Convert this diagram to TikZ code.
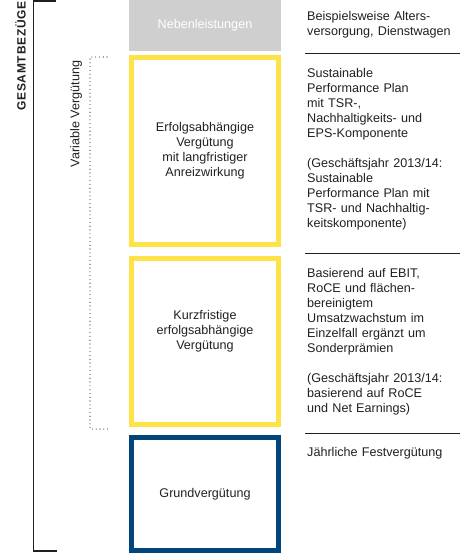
\documentclass[tikz,border=0pt]{standalone}
\usepackage{fontspec}
\setmainfont{Liberation Sans}
\definecolor{vkgelb}{RGB}{253,227,72}
\definecolor{vkblau}{RGB}{0,69,124}
\definecolor{vkgrau}{RGB}{207,207,207}
\definecolor{vktext}{RGB}{35,31,32}
\newcommand{\vkschrift}{\fontsize{12.6}{15}\selectfont}
\tikzset{
    grundbox/.style={rectangle, draw, line width=5pt, minimum width=147pt, inner sep=0pt,
                     outer sep=0pt, align=center, font=\vkschrift, text=vktext},
    varbox/.style={grundbox, draw=vkgelb},
    fixbox/.style={grundbox, draw=vkblau},
    nebenbox/.style={rectangle, fill=vkgrau, minimum width=152pt, minimum height=51pt,
                     inner sep=0pt, outer sep=0pt, text=white, font=\vkschrift},
    beschreibung/.style={anchor=base west, text width=165pt, inner sep=0pt, align=left,
                         font=\vkschrift, text=vktext},
    trenner/.style={line width=0.9pt, vktext},
    klammer/.style={line width=1.2pt, vktext},
    punktlinie/.style={line width=1.1pt, dash pattern=on 0pt off 3.8pt, line cap=round, vktext},
}

\begin{document}
\begin{tikzpicture}[x=1pt, y=-1pt]
    \useasboundingbox (0,0) rectangle (460,554);

    % Klammer Gesamtbezuege
    \node[rotate=90, font=\bfseries\fontsize{12}{14}\selectfont\addfontfeature{LetterSpace=6}, text=vktext] (gesamt) at (20.5,56) {GESAMTBEZÜGE};
    \coordinate (gtop) at (56,1);
    \coordinate (gbottom) at (57,551);
    \draw[klammer] (gtop) -- (33.5,1) -- (33.5,551) -- (gbottom);

    % Klammer variable Verguetung
    \node[rotate=90, font=\vkschrift, text=vktext] (variabel) at (76,114) {Variable Vergütung};
    \coordinate (vtop) at (107,57);
    \coordinate (vbottom) at (108,429);
    \draw[punktlinie] (vtop) -- (90,57) -- (90,429) -- (vbottom);

    % Bausteine
    \node[nebenbox] (neben) at (205,25.5) {Nebenleistungen};
    \node[varbox, minimum height=187.3pt] (lang) at (205,151.2)
        {Erfolgsabhängige\\Vergütung\\mit langfristiger\\Anreizwirkung};
    \node[varbox, minimum height=166.3pt] (kurz) at (205,341.7) {};
    \node[align=center, font=\vkschrift, text=vktext] (kurztext) at ([yshift=10pt]kurz.center)
        {Kurzfristige\\erfolgsabhängige\\Vergütung};
    \node[fixbox, minimum height=113pt] (grund) at (205,494) {Grundvergütung};

    % Beschreibungen
    \node[beschreibung] (tneben) at (307,20) {Beispielsweise Alters-\\versorgung, Dienstwagen};
    \draw[trenner] (305,53) -- (460,53);
    \node[beschreibung] (tlang) at (307,77) {Sustainable\\Performance Plan\\mit TSR-,\\Nachhaltigkeits- und\\EPS-Komponente\\[15pt](Geschäftsjahr 2013/14:\\Sustainable\\Performance Plan mit\\TSR- und Nachhaltig-\\keitskomponente)};
    \draw[trenner] (305,253.3) -- (460,253.3);
    \node[beschreibung] (tkurz) at (307,277) {Basierend auf EBIT,\\RoCE und flächen-\\bereinigtem\\Umsatzwachstum im\\Einzelfall ergänzt um\\Sonderprämien\\[15pt](Geschäftsjahr 2013/14:\\basierend auf RoCE\\und Net Earnings)};
    \draw[trenner] (305,433.3) -- (460,433.3);
    \node[beschreibung] (tgrund) at (307,456) {Jährliche Festvergütung};
\end{tikzpicture}
\end{document}
